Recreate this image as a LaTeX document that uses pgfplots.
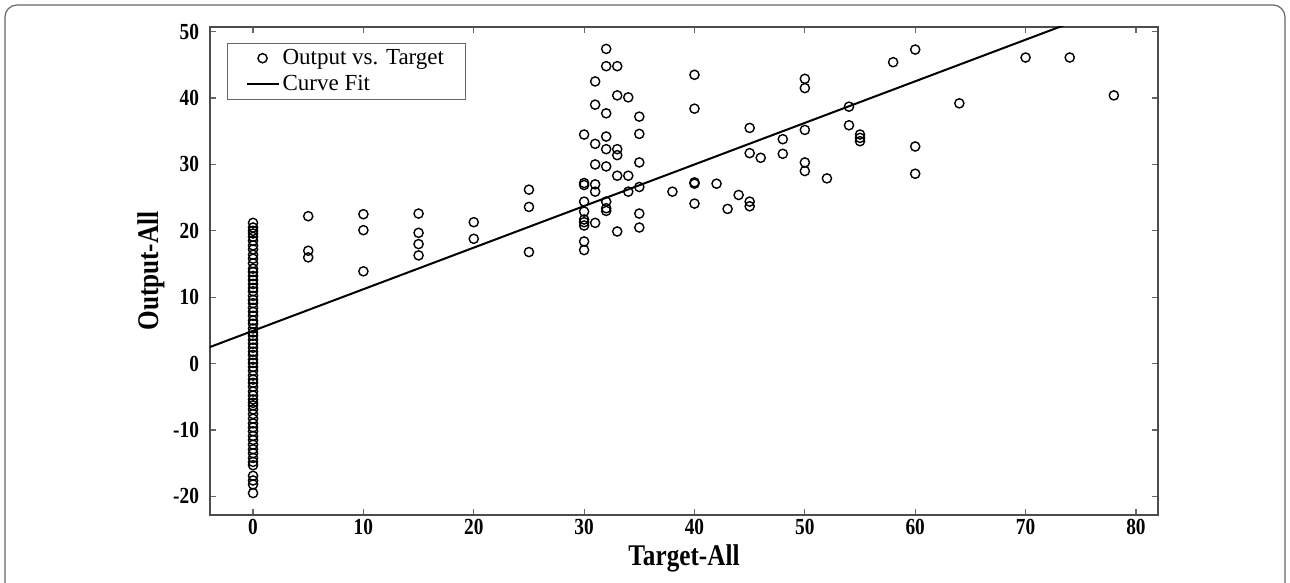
\documentclass[border=0pt]{standalone}
\usepackage{fontspec}
\setmainfont{Liberation Serif}
\usepackage{graphicx}
\usepackage{pgfplots}
\pgfplotsset{compat=1.18}

% reference text looks squeezed sideways
\newcommand{\sq}[1]{\scalebox{0.84}[1]{#1}}

\pgfplotsset{
  markleg/.style={legend image code/.code={\draw[##1] plot coordinates {(8pt,0pt)};}},
  lineleg/.style={legend image code/.code={\draw[##1] (0pt,0pt) -- (16pt,0pt);}},
}

\pgfplotstableread{
x y
0 21.2
0 20.5
0 20.0
0 19.6
0 19.1
0 18.5
0 17.8
0 17.2
0 16.4
0 15.8
0 15.1
0 14.3
0 13.8
0 13.2
0 12.6
0 12.0
0 11.4
0 10.9
0 10.2
0 9.6
0 9.1
0 8.4
0 7.8
0 7.2
0 6.5
0 6.0
0 5.3
0 4.7
0 4.2
0 3.6
0 3.0
0 2.4
0 1.8
0 1.3
0 0.6
0 0.1
0 -0.5
0 -1.1
0 -1.8
0 -2.4
0 -2.9
0 -3.5
0 -4.2
0 -4.8
0 -5.4
0 -5.9
0 -6.3
0 -6.9
0 -7.6
0 -8.3
0 -9.0
0 -9.6
0 -10.2
0 -10.9
0 -11.5
0 -12.2
0 -12.9
0 -13.5
0 -14.2
0 -14.8
0 -15.3
0 -16.9
0 -17.6
0 -18.2
0 -19.5
5 22.2
5 17.0
5 16.0
10 22.5
10 20.1
10 13.9
15 22.6
15 19.7
15 18.0
15 16.3
20 21.3
20 18.8
25 26.2
25 23.6
25 16.8
30 34.5
30 27.2
30 26.9
30 24.4
30 22.9
30 21.7
30 21.3
30 20.8
30 18.4
30 17.1
31 42.5
31 39.0
31 33.1
31 30.0
31 27.0
31 25.9
31 21.2
32 47.4
32 44.8
32 37.7
32 34.2
32 32.3
32 29.7
32 24.4
32 23.4
32 23.0
33 44.8
33 40.4
33 32.3
33 31.4
33 28.3
33 19.9
34 40.1
34 28.3
34 25.9
35 37.2
35 34.6
35 30.3
35 26.6
35 22.6
35 20.5
38 25.9
40 43.5
40 38.4
40 27.3
40 27.1
40 24.1
42 27.1
43 23.3
44 25.4
45 35.5
45 31.7
45 24.4
45 23.7
46 31.0
48 33.8
48 31.6
50 42.9
50 41.5
50 35.2
50 30.3
50 29.0
52 27.9
54 38.7
54 35.9
55 34.5
55 34.0
55 33.5
58 45.4
60 47.3
60 32.7
60 28.6
64 39.2
70 46.1
74 46.1
78 40.4
}\scatterdata

\begin{document}
\begin{tikzpicture}
\useasboundingbox (-105pt,-34pt) rectangle (540pt,257.5pt);
\clip (-105pt,-34pt) rectangle (540pt,257.5pt);
\draw[black!60, line width=0.6pt, rounded corners=6pt] (-102.5pt,-80pt) rectangle (537.5pt,255pt);
\begin{axis}[
  at={(0pt,0pt)}, anchor=south west,
  scale only axis, width=474pt, height=244pt,
  xmin=-3.9, xmax=82, ymin=-22.8, ymax=50.7,
  xtick={0,10,...,80}, ytick={-20,-10,...,50},
  tick align=inside, major tick length=3pt,
  axis line style={black!70, line width=0.6pt},
  tick style={black!60, line width=0.6pt},
  /pgf/number format/assume math mode=true,
  xticklabel={\sq{\pgfmathprintnumber{\tick}}},
  yticklabel={\sq{\pgfmathprintnumber{\tick}}},
  ticklabel style={font=\fontsize{11.5}{13}\selectfont\bfseries},
  xticklabel style={yshift=1.2pt},
  yticklabel style={xshift=-2pt},
  xlabel={\sq{Target-All}}, ylabel={\sq{Output-All}},
  label style={font=\fontsize{15}{17}\selectfont\bfseries},
  xlabel style={at={(axis description cs:0.5,0)}, anchor=center, yshift=-21.5pt},
  ylabel style={at={(axis description cs:0,0.5)}, anchor=center, yshift=29.5pt},
  legend style={at={(0.018,0.968)}, anchor=north west, draw=black!60,
    line width=0.5pt, font=\fontsize{11.5}{13}\selectfont,
    inner xsep=9pt, inner ysep=1pt, nodes={inner xsep=1.5pt}},
  legend cell align=left,
]
\addplot[only marks, mark=o, mark size=2.3pt, black, line width=0.7pt, markleg]
  table[x=x, y=y] {\scatterdata};
\addlegendentry{Output vs. Target}
\addplot[black, line width=1pt, no marks, lineleg]
  coordinates {(-3.9,2.5) (82,56.3)};
\addlegendentry{Curve Fit}
\end{axis}
\end{tikzpicture}
\end{document}
